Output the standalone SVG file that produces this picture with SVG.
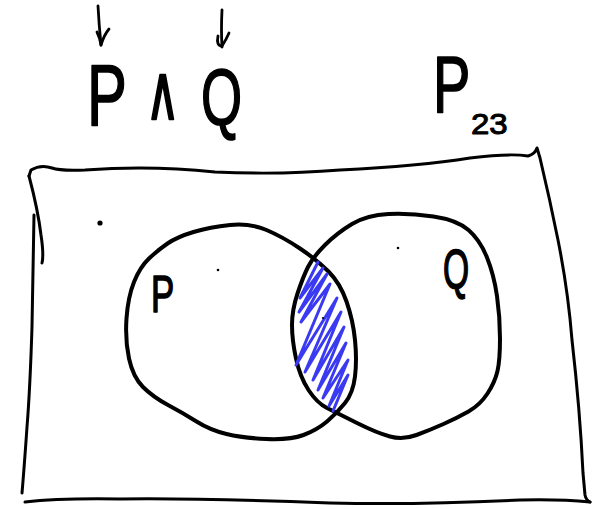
<svg xmlns="http://www.w3.org/2000/svg" width="603" height="509" viewBox="0 0 603 509">
<style>
.ink{fill:none;stroke:#000;stroke-linecap:round;stroke-linejoin:round}
.frame{stroke-width:3}
.set{stroke-width:4}
.hatch{fill:none;stroke:#3a3af2;stroke-width:3;stroke-linecap:round;stroke-linejoin:round}
.arrow{stroke-width:2.8}
.lbl{font-family:"Liberation Sans","DejaVu Sans",sans-serif;fill:#000;stroke:#000;stroke-width:1.6;stroke-linejoin:round}
.sub{stroke-width:1}
.sym{font-family:"DejaVu Sans",sans-serif;fill:#000;stroke:#000;stroke-width:2.4;stroke-linejoin:round}
.dot{fill:#000}
</style>
<rect width="603" height="509" fill="#fff"/>
<g id="universe">
<path class="ink frame" d="M29,176 L31,170 Q41,164 52,168 Q60,171 85,170 Q150,165 215,172 Q280,175 340,170 Q420,166 470,158 Q510,153 528,156 Q535,154 537,148 L540,158 Q550,200 558,240 Q568,290 572,340 Q580,410 583,473 L585,495 Q586,500 590,502"/>
<path class="ink frame" d="M590,502 Q560,499 520,500 Q420,505 330,503 Q200,498 120,499 Q60,498 25,502"/>
<path class="ink frame" d="M29,176 Q38,210 41,235 Q44,255 42,263"/>
<path class="ink frame" d="M34,215 Q33,260 32,327 Q30,390 27,427 Q24,470 22,493"/>
<circle class="dot" cx="100" cy="223" r="2.6"/>
<text class="lbl" font-size="80" transform="translate(433,112) scale(0.7,1)">P</text>
<text class="lbl sub" font-size="30" transform="translate(471,134) scale(1.1,1)">23</text>
</g>
<g id="set-P">
<path class="ink set" d="M149,258.5 Q158,250 167.5,243.5 Q177,237 193.5,232 Q210,227 230,225 Q250,223 266.5,230 Q283,237 300,248.5 Q317,260 328.5,271.5 Q340,283 346.5,301.5 Q353,320 355,340 Q357,360 355,376.5 Q353,393 345,403 Q337,413 327,421.5 Q317,430 303.5,435 Q290,440 266.5,439 Q243,438 226.5,434 Q210,430 196.5,421.5 Q183,413 168,405 Q153,397 143,387 Q133,377 129,358.5 Q125,340 126.5,318.5 Q128,297 134,282 Q140,267 149,258.5 Z"/>
<text class="lbl" font-size="52" transform="translate(151,312) scale(0.67,1)">P</text>
<circle class="dot" cx="218" cy="270" r="1.3"/>
</g>
<g id="set-Q">
<path class="ink set" d="M352,224 Q367,215 388.5,214 Q410,213 433.5,216.5 Q457,220 468.5,230 Q480,240 487,257.5 Q494,275 497,296 Q500,317 500,338.5 Q500,360 497.5,371 Q495,382 487.5,393.5 Q480,405 468.5,411.5 Q457,418 443.5,424 Q430,430 416.5,435 Q403,440 390,436.5 Q377,433 357,423 Q337,413 327,408 Q317,403 308.5,390 Q300,377 296,358.5 Q292,340 292,325 Q292,310 297.5,293.5 Q303,277 308,267 Q313,257 325,245 Q337,233 352,224 Z"/>
<text class="lbl" font-size="56" transform="translate(443,288) scale(0.6,1)">Q</text>
<circle class="dot" cx="398" cy="248" r="1.3"/>
</g>
<g id="intersection">
<path class="hatch" d="M318,262 L300,298 L323,268 L299,312 L327,274 L301,322 L330,284 L296,365 L337,298 L305,372 L341,312 L313,380 L344,327 L318,390 L346,343 L323,398 L348,360 L329,406 L348,375 L333,411"/>
<circle class="dot" cx="323" cy="318" r="1.1"/>
</g>
<g id="formula">
<text class="lbl" font-size="88" transform="translate(87,125) scale(0.68,1)">P</text>
<text class="sym" font-size="76" transform="translate(146,119) scale(0.6,1)">∧</text>
<text class="lbl" font-size="80" transform="translate(201,125) scale(0.66,1)">Q</text>
</g>
<g id="connectors">
<path class="ink arrow" d="M98,6 Q99,25 101,45"/>
<path class="ink arrow" d="M97,32 Q100,38 101,45 Q104,35 109,29"/>
<path class="ink arrow" d="M222,10 Q221,30 222,47"/>
<path class="ink arrow" d="M218,36 Q216,46 222,46 Q226,40 229,33"/>
</g>
</svg>
